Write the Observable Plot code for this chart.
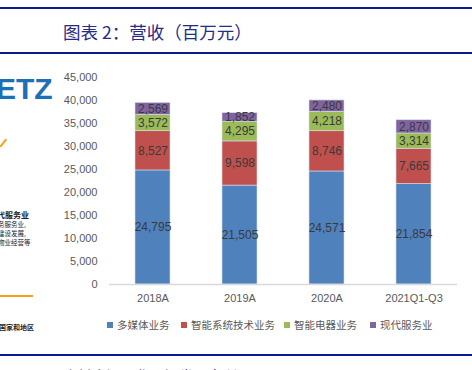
<!DOCTYPE html>
<html><head><meta charset="utf-8">
<script src="https://cdn.jsdelivr.net/npm/d3@7"></script>
<script src="https://cdn.jsdelivr.net/npm/@observablehq/plot@0.6"></script>
<style>
body{margin:0;width:472px;height:370px;overflow:hidden;background:#fff;position:relative;font-family:"Noto Sans CJK SC",sans-serif;}
.hl{position:absolute;left:0;width:472px;height:2px;background:#0a1a8a;}
#title{position:absolute;left:63px;top:19px;font-size:17.5px;color:#262b86;}
#src{position:absolute;left:63px;top:365px;font-size:14.5px;color:#262b86;}
#chart{position:absolute;left:0;top:60px;}
#legend{position:absolute;top:317px;left:0;width:472px;font-size:10.5px;color:#595959;}
.li{position:absolute;display:flex;align-items:center;white-space:nowrap;}
.sw{width:6px;height:6px;margin-right:4px;}
.art{position:absolute;white-space:nowrap;color:#222;}
</style></head><body>
<div class="hl" style="top:7px"></div>
<div id="title">图表 2：营收（百万元）</div>
<div class="hl" style="top:52px"></div>
<div id="chart"></div>
<div class="art" style="left:-4px;top:72px;font:bold 30px 'Liberation Sans Narrow','Liberation Sans',sans-serif;color:#1b70b8;">ETZ</div>
<div class="art" style="left:0;top:146px;width:10px;height:1.5px;background:#f3a21f;transform:rotate(-52deg);transform-origin:left"></div>
<div class="art" style="left:-3px;top:210px;font-size:8px;font-weight:bold;line-height:10px">代服务业</div>
<div class="art" style="left:-2px;top:220px;font-size:6.5px;line-height:9px">务服务业,<br>建设发展,<br>物业经营等</div>
<div class="art" style="left:0;top:295px;width:33px;height:2px;background:#f3a21f"></div>
<div class="art" style="left:-1px;top:322px;font-size:7px;font-weight:bold">国家和地区</div>
<div id="legend"></div>
<div class="hl" style="top:354px"></div>
<div id="src">资料来源：华西证券研究所</div>
<script>
const periods = ["2018A","2019A","2020A","2021Q1-Q3"];
const seriesNames = ["多媒体业务","智能系统技术业务","智能电器业务","现代服务业"];
const colors = ["#4f81bd","#c0504d","#9bbb59","#8064a2"];
const multimedia = [24795,21505,24571,21854];
const smartSystems = [8527,9598,8746,7665];
const smartAppliances = [3572,4295,4218,3314];
const modernServices = [2569,1852,2480,2870];
const yTicks = [0,5000,10000,15000,20000,25000,30000,35000,40000,45000];

const seriesValues = [multimedia, smartSystems, smartAppliances, modernServices];
const data = [];
seriesNames.forEach((s,i)=>periods.forEach((p,j)=>data.push({period:p, series:s, value:seriesValues[i][j]})));
const fmt = d3.format(",");
const font = "'Liberation Sans Narrow','Liberation Sans',sans-serif";

const plot = Plot.plot({
  width:472, height:250,
  marginLeft:109, marginRight:15, marginTop:17, marginBottom:26,
  style:{fontFamily:font, fontSize:"11px", color:"#595959", background:"transparent"},
  x:{domain:periods, paddingInner:0.6, paddingOuter:0.3, label:null, tickSize:0, tickPadding:10},
  y:{domain:[0,45000], ticks:yTicks, tickFormat:fmt, label:null, tickSize:0, tickPadding:12},
  color:{domain:seriesNames, range:colors},
  marks:[
    Plot.barY(data, {x:"period", y:"value", fill:"series", stroke:"#d6deec", strokeWidth:0.6}),
    Plot.ruleY([0], {stroke:"#d9d9d9", strokeWidth:1.5}),
    Plot.text(data, Plot.stackY({x:"period", y:"value", z:"series", text:d=>fmt(d.value), fill:"#3a3a3a", fontSize:12}))
  ]
});
document.getElementById("chart").appendChild(plot);

const legendX = [107,181,284,370];
const lg = document.getElementById("legend");
seriesNames.forEach((s,i)=>{
  const el = document.createElement("div");
  el.className="li"; el.style.left=legendX[i]+"px";
  el.innerHTML=`<span class="sw" style="background:${colors[i]}"></span>${s}`;
  lg.appendChild(el);
});
</script>
</body></html>
